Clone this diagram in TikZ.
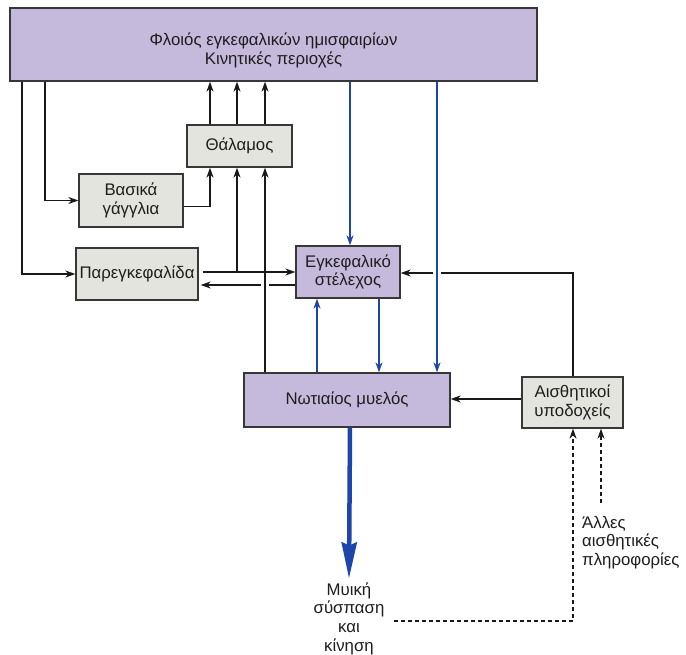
\documentclass[tikz,border=0pt]{standalone}
\usepackage{fontspec}
\setmainfont{Liberation Sans}
\usetikzlibrary{arrows.meta}
\definecolor{purp}{RGB}{197,186,220}
\definecolor{gbox}{RGB}{228,228,222}
\definecolor{bl}{RGB}{30,70,170}
\definecolor{edge}{RGB}{55,55,55}
\definecolor{txt}{RGB}{30,30,30}
\begin{document}
\begin{tikzpicture}[x=1pt,y=-1pt,
  font=\fontsize{16.8}{18.6}\selectfont,
  box/.style={draw=edge, line width=1.3pt, inner sep=0pt, align=center, text=txt},
  pbox/.style={box, fill=purp},
  gbx/.style={box, fill=gbox},
  conn/.style={draw=black!90, line width=1.5pt, -{Stealth[length=10pt,width=7pt]}},
  bconn/.style={draw=bl, line width=1.9pt, -{Stealth[length=10pt,width=7pt]}, color=bl},
  bigarr/.style={draw=bl, line width=4.5pt, -{Stealth[length=36pt,width=15pt,inset=3pt]}, color=bl},
  dconn/.style={draw=black!90, line width=1.3pt, dash pattern=on 4pt off 3pt, -{Stealth[length=10pt,width=7pt]}},
  plain/.style={align=center, inner sep=0pt, text=txt}
]
\useasboundingbox (0,0) rectangle (686,655);
\fill[white] (0,0) rectangle (686,655);

% boxes
\node[pbox, minimum width=527pt, minimum height=73pt] (cortex) at (273.5,44.5)
  {\raisebox{-7pt}[\height][\depth]{\begin{tabular}{@{}c@{}}Φλοιός εγκεφαλικών ημισφαιρίων\\Κινητικές περιοχές\end{tabular}}};
\node[gbx, minimum width=105pt, minimum height=42pt] (thal) at (239.5,146) {Θάλαμος};
\node[gbx, minimum width=104pt, minimum height=53pt] (basal) at (131,200.5) {Βασικά\\γάγγλια};
\node[gbx, minimum width=122pt, minimum height=52pt] (cereb) at (137,274) {Παρεγκεφαλίδα};
\node[pbox, minimum width=104pt, minimum height=52pt] (stem) at (348,272) {Εγκεφαλικό\\στέλεχος};
\node[pbox, minimum width=206pt, minimum height=54pt] (spinal) at (347,400) {Νωτιαίος μυελός};
\node[gbx, minimum width=101pt, minimum height=51pt] (sens) at (572.5,402.5) {Αισθητικοί\\υποδοχείς};
\node[plain, anchor=north] (muscle) at (349,582.5) {Μυική\\σύσπαση\\και\\κίνηση};
\node[plain, align=left, anchor=north west] (other) at (582,516) {Άλλες\\αισθητικές\\πληροφορίες};
\coordinate (o1) at (601,503);
\coordinate (m1) at (394,621);

% cortex to cerebellum and basal ganglia
\draw[conn] (22,0 |- cortex.south) |- (cereb.west);
\draw[conn] (45,0 |- cortex.south) |- (basal.west);
% thalamus to cortex
\draw[conn] (210,0 |- thal.north) -- (210,0 |- cortex.south);
\draw[conn] (237,0 |- thal.north) -- (237,0 |- cortex.south);
\draw[conn] (265,0 |- thal.north) -- (265,0 |- cortex.south);
% basal ganglia to thalamus
\draw[conn] ([yshift=-6pt]basal.east) -| (210,0 |- thal.south);
% brainstem to cerebellum (with gap)
\draw[conn, shorten >=2pt] (stem.west |- 0,285) -- (cereb.east |- 0,285);
\fill[white] (261,281) rectangle (269,289);
% spinal cord to thalamus
\draw[conn] (265,0 |- spinal.north) -- (265,0 |- thal.south);
% cerebellum to brainstem and thalamus
\draw[conn, shorten <=4pt] (cereb.east |- 0,272) -- (stem.west |- 0,272);
\draw[conn] (237,0 |- cereb.east |- 0,272) -- (237,0 |- thal.south);
% sensory receptors
\draw[conn] (sens.west |- 0,399) -- (spinal.east |- 0,399);
\draw[conn] (573,0 |- sens.north) |- (stem.east |- 0,273);
\fill[white] (433,269) rectangle (441,277);
% blue pathways
\draw[bconn] (350,0 |- cortex.south) -- (350,0 |- stem.north);
\draw[bconn] (437,0 |- cortex.south) -- (437,0 |- spinal.north);
\draw[bconn] (379,0 |- stem.south) -- (379,0 |- spinal.north);
\draw[bconn] (317,0 |- spinal.north) -- (317,0 |- stem.south);
\draw[bigarr] (350,0 |- spinal.south) -- ([yshift=4pt]muscle.north);
% dashed feedback
\draw[dconn] (m1) -| (573,0 |- sens.south);
\draw[dconn] (o1) -- (601,0 |- sens.south);
\end{tikzpicture}
\end{document}
